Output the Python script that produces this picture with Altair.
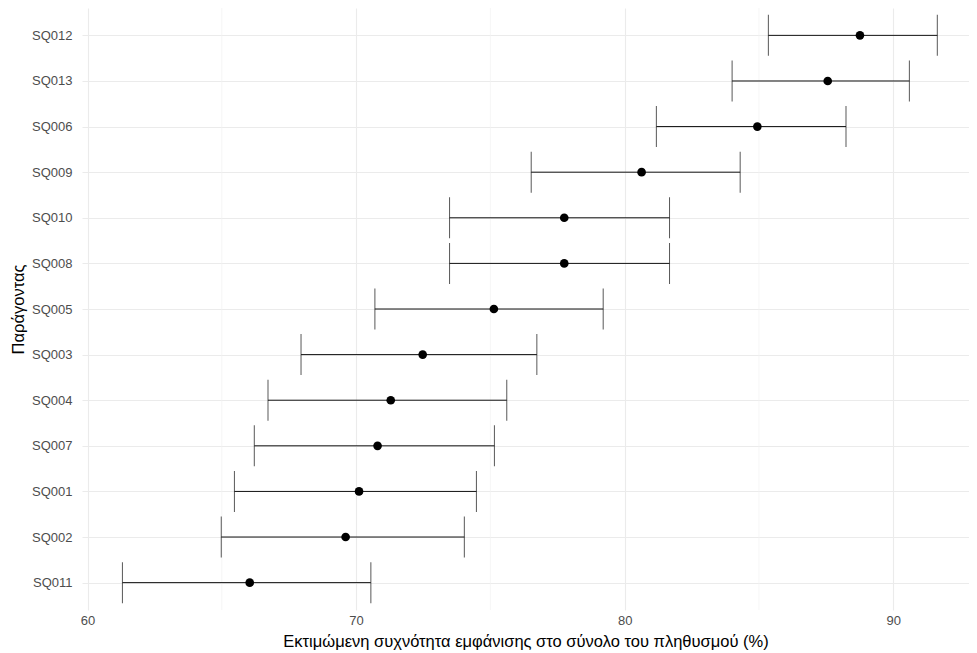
import altair as alt
import pandas as pd

factors = ["SQ012", "SQ013", "SQ006", "SQ009", "SQ010", "SQ008", "SQ005",
           "SQ003", "SQ004", "SQ007", "SQ001", "SQ002", "SQ011"]
estimate = [88.76, 87.56, 84.94, 80.63, 77.75, 77.75, 75.13,
            72.48, 71.29, 70.80, 70.11, 69.61, 66.04]
lower = [85.35, 84.00, 81.18, 76.52, 73.48, 73.48, 70.70,
         67.95, 66.72, 66.21, 65.47, 64.98, 61.30]
upper = [91.64, 90.60, 88.24, 84.30, 81.67, 81.67, 79.20,
         76.73, 75.61, 75.15, 74.48, 74.03, 70.55]
major_ticks = [60, 70, 80, 90]
minor_ticks = [65, 75, 85]

df = pd.DataFrame({"factor": factors, "est": estimate, "lo": lower, "hi": upper})
minor_df = pd.DataFrame({"v": minor_ticks})

FONT = "Liberation Sans"
xscale = alt.Scale(domain=[59.795, 92.82], nice=False, zero=False)
yscale = alt.Scale(type="point", padding=0.6, domain=factors)

x_title = "Εκτιμώμενη συχνότητα εμφάνισης στο σύνολο του πληθυσμού (%)"

minor = alt.Chart(minor_df).mark_rule(color="#F2F2F2", strokeWidth=0.7).encode(
    x=alt.X("v:Q", scale=xscale)
)

base = alt.Chart(df)

bars = base.mark_rule(color="#111111", strokeWidth=1).encode(
    x=alt.X("lo:Q", scale=xscale,
            axis=alt.Axis(values=major_ticks, title=x_title, format="d")),
    x2="hi:Q",
    y=alt.Y("factor:N", scale=yscale, sort=factors, title="Παράγοντας"),
)

cap_lo = base.mark_tick(color="#111111", thickness=1, size=41, orient="vertical").encode(
    x=alt.X("lo:Q", scale=xscale),
    y=alt.Y("factor:N", scale=yscale, sort=factors),
)
cap_hi = base.mark_tick(color="#111111", thickness=1, size=41, orient="vertical").encode(
    x=alt.X("hi:Q", scale=xscale),
    y=alt.Y("factor:N", scale=yscale, sort=factors),
)

pts = base.mark_circle(color="black", opacity=1, size=75).encode(
    x=alt.X("est:Q", scale=xscale),
    y=alt.Y("factor:N", scale=yscale, sort=factors),
)

chart = alt.layer(minor, bars, cap_lo, cap_hi, pts).properties(
    width=887, height=602,
    autosize=alt.AutoSizeParams(type="none"),
    padding={"left": 74, "top": 0, "right": 0, "bottom": 42},
).configure_view(stroke=None).configure_axis(
    grid=True, gridColor="#EBEBEB", gridWidth=1.1,
    domain=False, ticks=False,
    labelFont=FONT, labelFontSize=13, labelColor="#4D4D4D",
    titleFont=FONT, titleFontSize=16.5, titleColor="#000000", titleFontWeight="normal",
).configure_axisX(labelPadding=4, titlePadding=6).configure_axisY(
    labelPadding=10, titlePadding=5
)

chart.save("out.html", embed_options={"renderer": "svg", "actions": False})
